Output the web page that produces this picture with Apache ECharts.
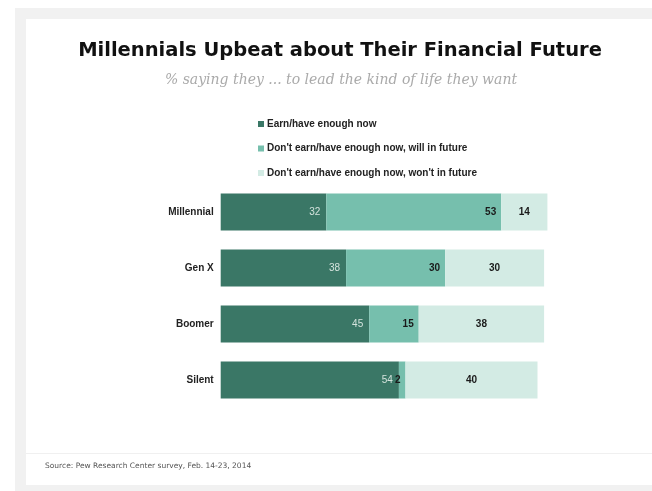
<!DOCTYPE html>
<html>
<head>
<meta charset="utf-8">
<script src="https://cdn.jsdelivr.net/npm/echarts@6/dist/echarts.min.js"></script>
<style>
  html, body { margin: 0; padding: 0; background: #ffffff; }
  #chart { width: 652px; height: 491px; }
</style>
</head>
<body>
<div id="chart"></div>
<script>
// Generations, top to bottom
const generations = ['Millennial', 'Gen X', 'Boomer', 'Silent'];

// Series names
const seriesNames = [
  'Earn/have enough now',
  "Don't earn/have enough now, will in future",
  "Don't earn/have enough now, won't in future"
];

// Percentages per generation
const earnNow = [32, 38, 45, 54];
const willInFuture = [53, 30, 15, 2];
const wontInFuture = [14, 30, 38, 40];

const titleText = 'Millennials Upbeat about Their Financial Future';
const subtitleText = '% saying they ... to lead the kind of life they want';
const sourceText = 'Source: Pew Research Center survey, Feb. 14-23, 2014';

const colors = ['#3a7766', '#76bfad', '#d3ebe4'];

const chart = echarts.init(document.getElementById('chart'));

const option = {
  animation: false,
  backgroundColor: '#ffffff',
  graphic: [
    { type: 'rect', z: -10, silent: true, shape: { x: 15, y: 8, width: 637, height: 483 }, style: { fill: '#f1f1f1' } },
    { type: 'rect', z: -9, silent: true, shape: { x: 26, y: 19, width: 626, height: 466 }, style: { fill: '#ffffff' } },
    { type: 'line', z: -8, silent: true, shape: { x1: 26, y1: 453.5, x2: 652, y2: 453.5 }, style: { stroke: '#f0f0f0', lineWidth: 1 } },
    {
      type: 'text', x: 340, y: 51,
      style: {
        text: titleText, textAlign: 'center', textVerticalAlign: 'middle',
        font: 'bold 19.5px "DejaVu Sans"', fill: '#111111'
      }
    },
    {
      type: 'text', x: 341, y: 80,
      style: {
        text: subtitleText, textAlign: 'center', textVerticalAlign: 'middle',
        font: 'italic 14px "DejaVu Serif"', fill: '#aaaaaa'
      }
    },
    {
      type: 'text', x: 45, y: 466,
      style: {
        text: sourceText, textAlign: 'left', textVerticalAlign: 'middle',
        font: '7.5px "DejaVu Sans"', fill: '#555555'
      }
    }
  ],
  legend: {
    orient: 'vertical',
    left: 253,
    top: 113,
    icon: 'rect',
    itemWidth: 6,
    itemHeight: 6,
    itemGap: 12.5,
    data: seriesNames,
    selectedMode: false,
    textStyle: {
      fontFamily: 'Liberation Sans',
      fontWeight: 'bold',
      fontSize: 10,
      lineHeight: 12,
      color: '#222222',
      padding: [0, 0, 0, -2]
    }
  },
  grid: {
    left: 220.7,
    width: 330,
    top: 184,
    height: 224,
    containLabel: false
  },
  xAxis: {
    type: 'value',
    min: 0,
    max: 100,
    show: false
  },
  yAxis: {
    type: 'category',
    inverse: true,
    data: generations,
    axisLine: { show: false },
    axisTick: { show: false },
    axisLabel: {
      margin: 7,
      fontFamily: 'Liberation Sans',
      fontWeight: 'bold',
      fontSize: 10,
      color: '#222222'
    }
  },
  series: [
    {
      name: seriesNames[0],
      type: 'bar',
      stack: 'total',
      data: earnNow,
      barWidth: 37,
      itemStyle: { color: colors[0] },
      label: {
        show: true,
        position: 'insideRight',
        distance: 6,
        color: '#d4e3dd',
        fontFamily: 'Liberation Sans',
        fontSize: 10
      }
    },
    {
      name: seriesNames[1],
      type: 'bar',
      stack: 'total',
      data: willInFuture,
      barWidth: 37,
      itemStyle: { color: colors[1] },
      label: {
        show: true,
        position: 'insideRight',
        distance: 5,
        color: '#1a1a1a',
        fontFamily: 'Liberation Sans',
        fontWeight: 'bold',
        fontSize: 10
      }
    },
    {
      name: seriesNames[2],
      type: 'bar',
      stack: 'total',
      data: wontInFuture,
      barWidth: 37,
      itemStyle: { color: colors[2] },
      label: {
        show: true,
        position: 'inside',
        color: '#1a1a1a',
        fontFamily: 'Liberation Sans',
        fontWeight: 'bold',
        fontSize: 10
      }
    }
  ]
};

chart.setOption(option);
</script>
</body>
</html>
